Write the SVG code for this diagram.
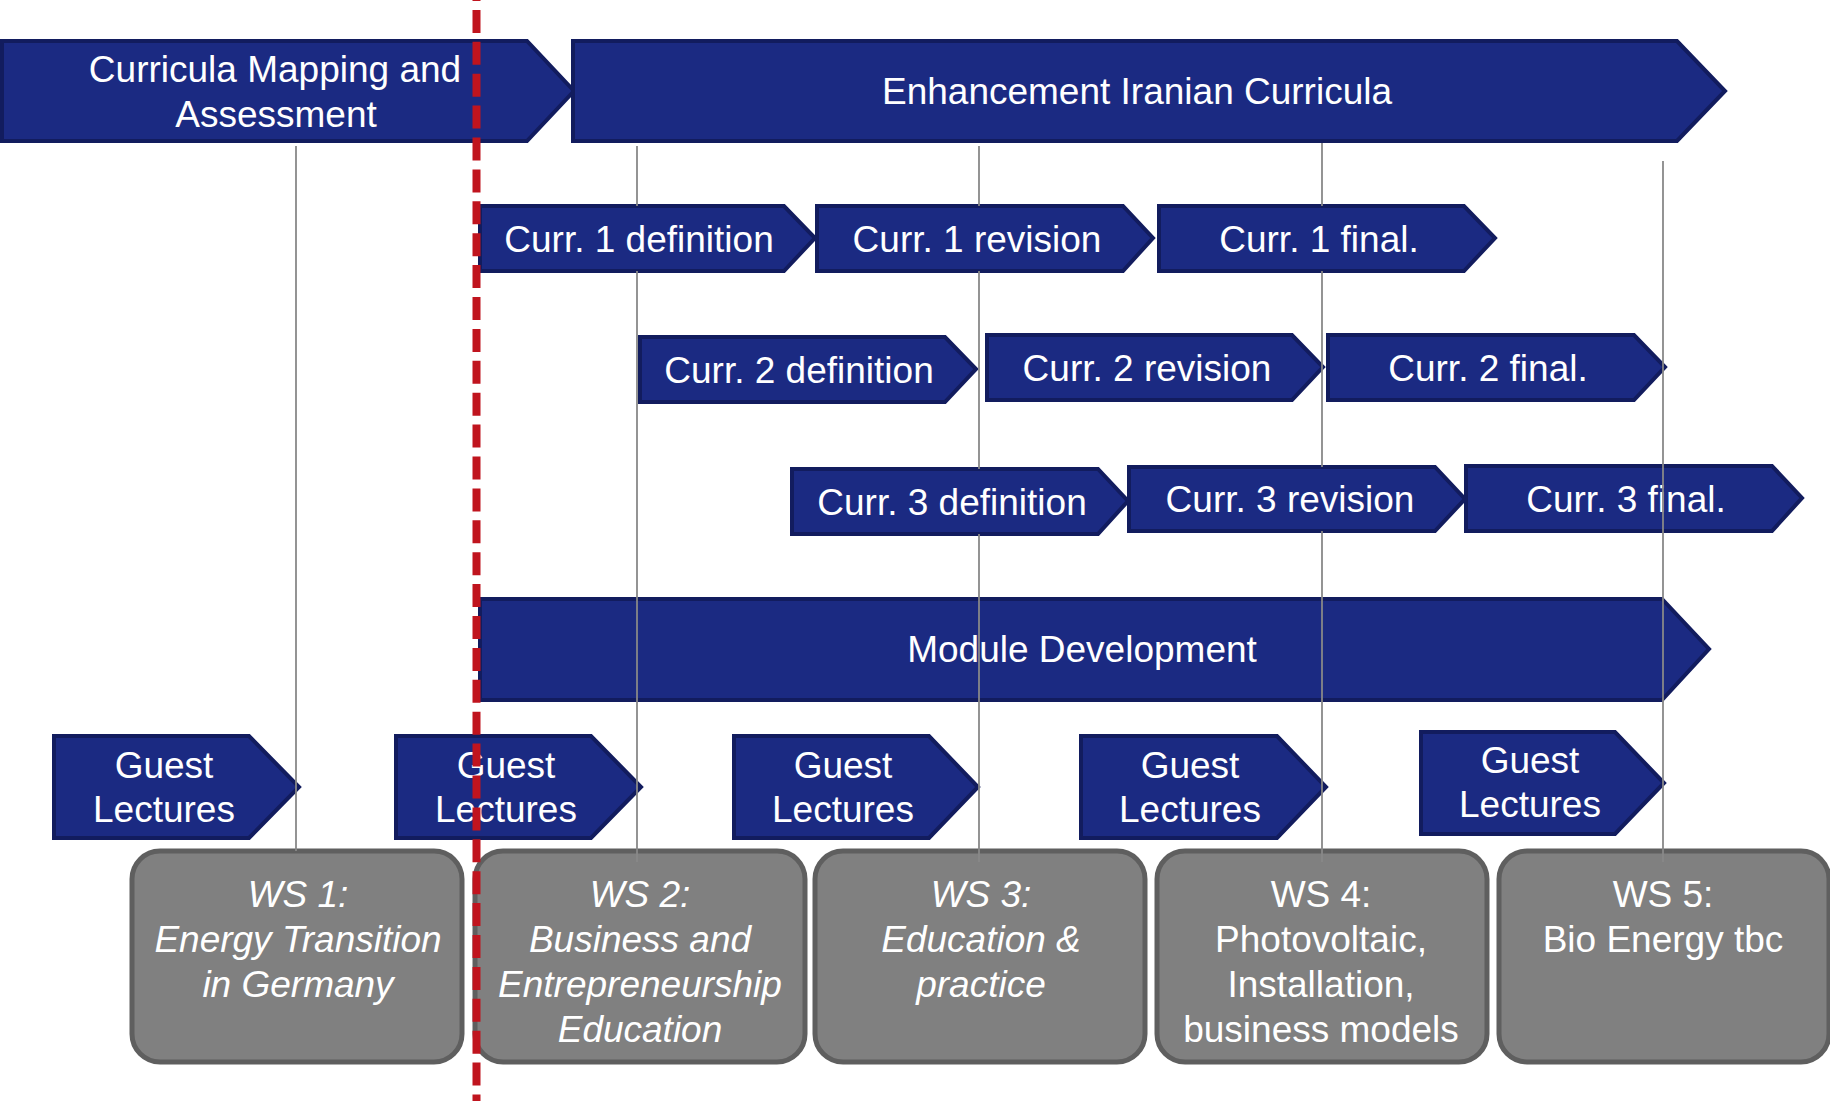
<svg xmlns="http://www.w3.org/2000/svg" width="1830" height="1101" viewBox="0 0 1830 1101">
<style>
.arr{fill:#1b2a82;stroke:#121c5e;stroke-width:4;stroke-linejoin:miter}
.ws{fill:#808080;stroke:#5f5f5f;stroke-width:5}
.t{font-family:"Liberation Sans",Arial,sans-serif;font-size:37px;fill:#ffffff;text-anchor:middle}
.i{font-style:italic}
.ln{stroke:#888888;stroke-width:1.8;fill:none}
.red{stroke:#c0141e;stroke-width:8;stroke-dasharray:23 8.9;fill:none}
</style>
<rect width="1830" height="1101" fill="#ffffff"/>

<g id="n-curricula-mapping"><polygon class="arr" points="2,41 527,41 574,91 527,141 2,141"/><text class="t" x="275" y="82">Curricula Mapping and</text><text class="t" x="276" y="127">Assessment</text></g>
<g id="n-enhancement"><polygon class="arr" points="573,41 1677,41 1725,91 1677,141 573,141"/><text class="t" x="1137" y="104">Enhancement Iranian Curricula</text></g>

<g id="n-curr1-def"><polygon class="arr" points="480,206 784,206 815,238 784,271 480,271"/><text class="t" x="639" y="252">Curr. 1 definition</text></g>
<g id="n-curr1-rev"><polygon class="arr" points="817,206 1123,206 1153,238 1123,271 817,271"/><text class="t" x="977" y="252">Curr. 1 revision</text></g>
<g id="n-curr1-fin"><polygon class="arr" points="1159,206 1464,206 1495,238 1464,271 1159,271"/><text class="t" x="1319" y="252">Curr. 1 final.</text></g>

<g id="n-curr2-def"><polygon class="arr" points="640,337 945,337 976,369 945,402 640,402"/><text class="t" x="799" y="383">Curr. 2 definition</text></g>
<g id="n-curr2-rev"><polygon class="arr" points="987,335 1292,335 1323,367 1292,400 987,400"/><text class="t" x="1147" y="381">Curr. 2 revision</text></g>
<g id="n-curr2-fin"><polygon class="arr" points="1328,335 1634,335 1665,367 1634,400 1328,400"/><text class="t" x="1488" y="381">Curr. 2 final.</text></g>

<g id="n-curr3-def"><polygon class="arr" points="792,469 1098,469 1128,501 1098,534 792,534"/><text class="t" x="952" y="515">Curr. 3 definition</text></g>
<g id="n-curr3-rev"><polygon class="arr" points="1129,467 1435,467 1465,499 1435,531 1129,531"/><text class="t" x="1290" y="512">Curr. 3 revision</text></g>
<g id="n-curr3-fin"><polygon class="arr" points="1466,466 1772,466 1802,498 1772,531 1466,531"/><text class="t" x="1626" y="512">Curr. 3 final.</text></g>

<g id="n-module-dev"><polygon class="arr" points="480,599 1662,599 1709,649 1662,700 480,700"/><text class="t" x="1082" y="662">Module Development</text></g>

<g id="n-guest1"><polygon class="arr" points="54,736 249,736 299,787 249,838 54,838"/><text class="t" x="164" y="778">Guest</text><text class="t" x="164" y="822">Lectures</text></g>
<g id="n-guest2"><polygon class="arr" points="396,736 591,736 641,787 591,838 396,838"/><text class="t" x="506" y="778">Guest</text><text class="t" x="506" y="822">Lectures</text></g>
<g id="n-guest3"><polygon class="arr" points="734,736 929,736 978,787 929,838 734,838"/><text class="t" x="843" y="778">Guest</text><text class="t" x="843" y="822">Lectures</text></g>
<g id="n-guest4"><polygon class="arr" points="1081,736 1277,736 1326,787 1277,838 1081,838"/><text class="t" x="1190" y="778">Guest</text><text class="t" x="1190" y="822">Lectures</text></g>
<g id="n-guest5"><polygon class="arr" points="1421,732 1615,732 1664,783 1615,834 1421,834"/><text class="t" x="1530" y="773">Guest</text><text class="t" x="1530" y="817">Lectures</text></g>

<g id="n-ws1"><rect class="ws" x="132" y="851" width="330" height="211" rx="28"/><g class="t i"><text x="298" y="907">WS 1:</text><text x="298" y="952">Energy Transition</text><text x="298" y="997">in Germany</text></g></g>
<g id="n-ws2"><rect class="ws" x="475" y="851" width="330" height="211" rx="28"/><g class="t i"><text x="640" y="907">WS 2:</text><text x="640" y="952">Business and</text><text x="640" y="997">Entrepreneurship</text><text x="640" y="1042">Education</text></g></g>
<g id="n-ws3"><rect class="ws" x="815" y="851" width="330" height="211" rx="28"/><g class="t i"><text x="981" y="907">WS 3:</text><text x="981" y="952">Education &amp;</text><text x="981" y="997">practice</text></g></g>
<g id="n-ws4"><rect class="ws" x="1157" y="851" width="330" height="211" rx="28"/><g class="t"><text x="1321" y="907">WS 4:</text><text x="1321" y="952">Photovoltaic,</text><text x="1321" y="997">Installation,</text><text x="1321" y="1042">business models</text></g></g>
<g id="n-ws5"><rect class="ws" x="1499" y="851" width="330" height="211" rx="28"/><g class="t"><text x="1663" y="907">WS 5:</text><text x="1663" y="952">Bio Energy tbc</text></g></g>

<g id="connectors">
<line class="ln" x1="296" y1="146" x2="296" y2="851"/>
<line class="ln" x1="637" y1="146" x2="637" y2="206"/><line class="ln" x1="637" y1="271" x2="637" y2="862"/>
<line class="ln" x1="979" y1="146" x2="979" y2="206"/><line class="ln" x1="979" y1="271" x2="979" y2="469"/><line class="ln" x1="979" y1="534" x2="979" y2="862"/>
<line class="ln" x1="1322" y1="143" x2="1322" y2="206"/><line class="ln" x1="1322" y1="271" x2="1322" y2="467"/><line class="ln" x1="1322" y1="531" x2="1322" y2="862"/>
<line class="ln" x1="1663" y1="161" x2="1663" y2="862"/>
</g>

<g id="today-line"><line class="red" x1="476.5" y1="-22" x2="476.5" y2="1101"/></g>
</svg>
